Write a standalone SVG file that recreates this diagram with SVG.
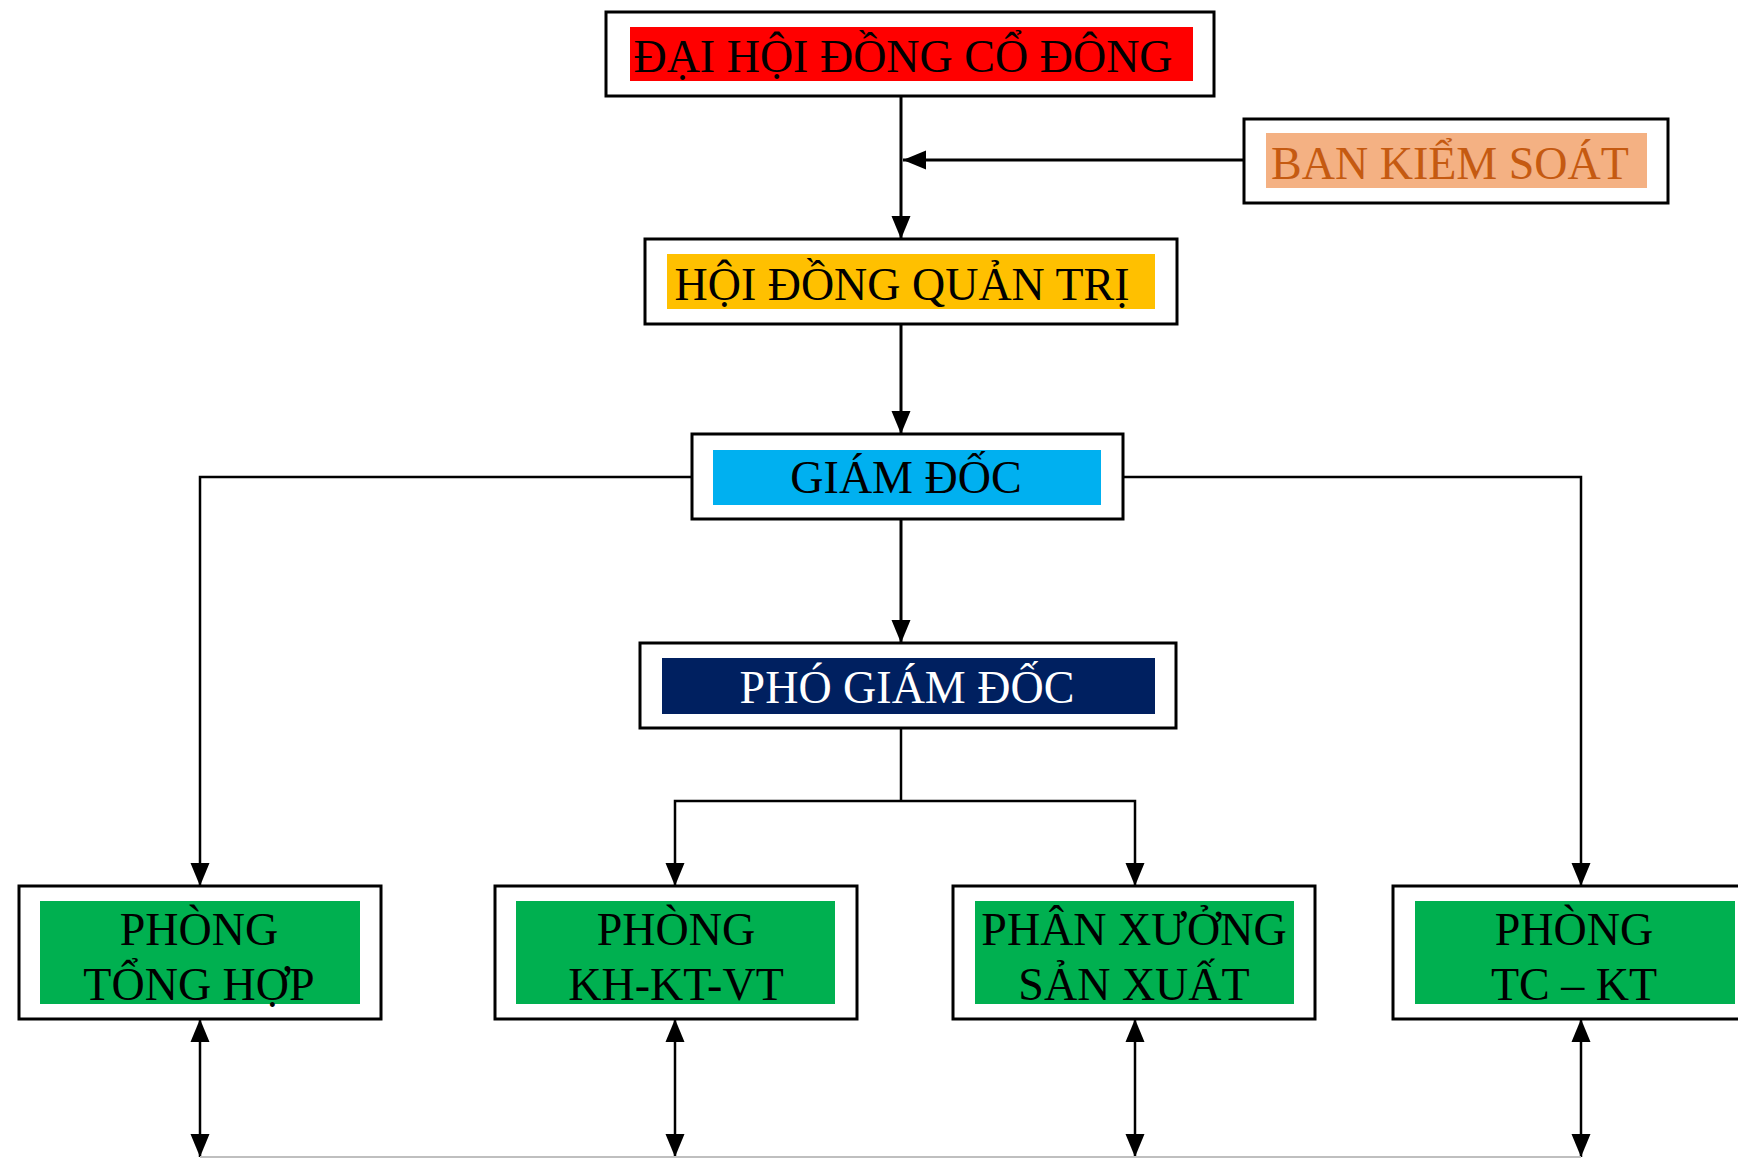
<svg xmlns="http://www.w3.org/2000/svg" width="1738" height="1158" viewBox="0 0 1738 1158">
<style>
.box{fill:#fff;stroke:#000;stroke-width:3}
.t{font-family:"Liberation Serif","Times New Roman",serif;font-size:46px;text-anchor:middle;fill:#000}
.c{fill:none;stroke:#000;stroke-width:3}
.h{fill:none;stroke:#000;stroke-width:2.5}
</style>
<defs>
<marker id="ah" markerUnits="userSpaceOnUse" markerWidth="24" markerHeight="22" refX="23" refY="11" orient="auto-start-reverse">
<path d="M0,1.5 L23,11 L0,20.5 z" fill="#000"/>
</marker>
</defs>
<rect width="1738" height="1158" fill="#fff"/>
<g id="connectors">
<path class="c" d="M901,96 V239" marker-end="url(#ah)"/>
<path class="c" d="M1244,160 H903" marker-end="url(#ah)"/>
<path class="c" d="M901,324 V434" marker-end="url(#ah)"/>
<path class="c" d="M901,519 V643" marker-end="url(#ah)"/>
<path class="h" d="M692,477 H200 V886" marker-end="url(#ah)"/>
<path class="h" d="M1123,477 H1581 V886" marker-end="url(#ah)"/>
<path class="h" d="M901,728 V801"/>
<path class="h" d="M675,886 V801 H1135 V886" marker-start="url(#ah)" marker-end="url(#ah)"/>
<path class="h" d="M200,1019 V1157" marker-start="url(#ah)" marker-end="url(#ah)"/>
<path class="h" d="M675,1019 V1157" marker-start="url(#ah)" marker-end="url(#ah)"/>
<path class="h" d="M1135,1019 V1157" marker-start="url(#ah)" marker-end="url(#ah)"/>
<path class="h" d="M1581,1019 V1157" marker-start="url(#ah)" marker-end="url(#ah)"/>
<path d="M200,1157 H1581" fill="none" stroke="#BFBFBF" stroke-width="2"/>
</g>
<g id="dhdcd">
<rect class="box" x="606" y="12" width="608" height="84"/>
<rect x="630" y="27" width="563" height="54" fill="#FF0000"/>
<text class="t" x="903" y="72">ĐẠI HỘI ĐỒNG CỔ ĐÔNG</text>
</g>
<g id="bks">
<rect class="box" x="1244" y="119" width="424" height="84"/>
<rect x="1266" y="133" width="381" height="55" fill="#F4B183"/>
<text class="t" x="1450" y="179" style="fill:#C55A11">BAN KIỂM SOÁT</text>
</g>
<g id="hdqt">
<rect class="box" x="645" y="239" width="532" height="85"/>
<rect x="667" y="254" width="488" height="55" fill="#FFC000"/>
<text class="t" x="902" y="300" textLength="455" lengthAdjust="spacingAndGlyphs">HỘI ĐỒNG QUẢN TRỊ</text>
</g>
<g id="gd">
<rect class="box" x="692" y="434" width="431" height="85"/>
<rect x="713" y="450" width="388" height="55" fill="#00B0F0"/>
<text class="t" x="906" y="493">GIÁM ĐỐC</text>
</g>
<g id="pgd">
<rect class="box" x="640" y="643" width="536" height="85"/>
<rect x="662" y="658" width="493" height="56" fill="#002060"/>
<text class="t" x="907" y="703" style="fill:#fff">PHÓ GIÁM ĐỐC</text>
</g>
<g id="p-tonghop">
<rect class="box" x="19" y="886" width="362" height="133"/>
<rect x="40" y="901" width="320" height="103" fill="#00B050"/>
<text class="t" x="199" y="945">PHÒNG</text>
<text class="t" x="199" y="1000">TỔNG HỢP</text>
</g>
<g id="p-khktvt">
<rect class="box" x="495" y="886" width="362" height="133"/>
<rect x="516" y="901" width="319" height="103" fill="#00B050"/>
<text class="t" x="676" y="945">PHÒNG</text>
<text class="t" x="676" y="1000">KH-KT-VT</text>
</g>
<g id="px-sanxuat">
<rect class="box" x="953" y="886" width="362" height="133"/>
<rect x="975" y="901" width="319" height="103" fill="#00B050"/>
<text class="t" x="1134" y="945">PHÂN XƯỞNG</text>
<text class="t" x="1134" y="1000">SẢN XUẤT</text>
</g>
<g id="p-tckt">
<rect class="box" x="1393" y="886" width="377" height="133"/>
<rect x="1415" y="901" width="320" height="103" fill="#00B050"/>
<text class="t" x="1574" y="945">PHÒNG</text>
<text class="t" x="1574" y="1000">TC – KT</text>
</g>
</svg>
